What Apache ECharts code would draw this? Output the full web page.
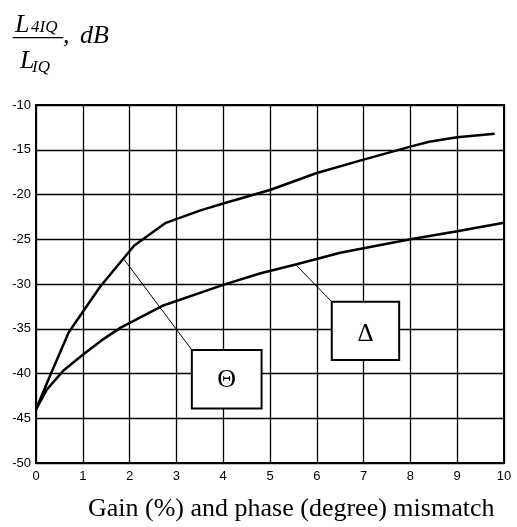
<!DOCTYPE html>
<html>
<head>
<meta charset="utf-8">
<script src="https://cdn.jsdelivr.net/npm/echarts@6/dist/echarts.min.js"></script>
<style>html,body{margin:0;padding:0;background:#fff}#c{width:517px;height:527px}</style>
</head>
<body>
<div id="c"></div>
<script>
// Data
var thetaCurve = [[0,-44],[0.32,-40],[0.7,-35.4],[1.37,-30.3],[2.1,-25.7],[2.76,-23.2],[3.5,-21.8],[4,-21],[5,-19.5],[6,-17.6],[7,-16.1],[8,-14.65],[8.4,-14.1],[9,-13.6],[9.8,-13.2]];
var deltaCurve = [[0,-44],[0.23,-41.8],[0.6,-39.6],[1,-37.9],[1.4,-36.3],[1.8,-34.9],[2.72,-32.4],[4,-30.1],[4.8,-28.8],[5.57,-27.8],[6.5,-26.5],[8,-25.0],[9,-24.1],[10,-23.15]];
var xTicks = [0,1,2,3,4,5,6,7,8,9,10];
var yTicks = [-50,-45,-40,-35,-30,-25,-20,-15,-10];
// Annotation boxes [x0, y0, x1, y1] in data units, and leader lines
var thetaBox = [3.33,-37.37,4.82,-43.9];
var deltaBox = [6.32,-31.98,7.76,-38.5];
var thetaLeader = [[1.88,-27.24],[3.33,-37.37]];
var deltaLeader = [[5.56,-27.9],[6.32,-31.98]];
var xTitle = 'Gain (%) and phase (degree) mismatch';

var chart = echarts.init(document.getElementById('c'), null, {renderer:'canvas'});
var serif = '"Liberation Serif","Times New Roman",serif';
var sans = '"Liberation Sans",Arial,sans-serif';
function boxArea(b, label, off){
  return [{coord:[b[0],b[1]], itemStyle:{color:'#fff',borderColor:'#000',borderWidth:2,opacity:1},
    label:{show:true,position:'inside',formatter:label,fontFamily:serif,fontSize:off.size,color:'#000',offset:off.offset}},
    {coord:[b[2],b[3]]}];
}
var option = {
  animation:false,
  backgroundColor:'#fff',
  grid:{left:36,right:13,top:105,bottom:64,show:true,borderColor:'#000',borderWidth:2,containLabel:false},
  xAxis:{type:'value',min:xTicks[0],max:xTicks[xTicks.length-1],interval:1,
    axisLine:{show:true,lineStyle:{color:'#000',width:2}},axisTick:{show:false},
    axisLabel:{color:'#000',fontFamily:sans,fontSize:13,margin:7},
    splitLine:{show:true,lineStyle:{color:'#000',width:1.3}}},
  yAxis:{type:'value',min:yTicks[0],max:yTicks[yTicks.length-1],interval:5,
    axisLine:{show:true,lineStyle:{color:'#000',width:2}},axisTick:{show:false},
    axisLabel:{color:'#000',fontFamily:sans,fontSize:13,margin:5},
    splitLine:{show:true,lineStyle:{color:'#000',width:1.3}}},
  series:[
    {type:'line',data:thetaCurve,showSymbol:false,symbol:'none',lineStyle:{color:'#000',width:2.5},z:5},
    {type:'line',data:deltaCurve,showSymbol:false,symbol:'none',lineStyle:{color:'#000',width:2.5},z:5,
      markArea:{silent:true,data:[boxArea(thetaBox,'Θ',{size:26,offset:[0,1]}),boxArea(deltaBox,'Δ',{size:25,offset:[0,4]})]},
      markLine:{silent:true,symbol:['none','none'],label:{show:false},lineStyle:{color:'#000',width:1,type:'solid'},
        data:[[{coord:thetaLeader[0]},{coord:thetaLeader[1]}],[{coord:deltaLeader[0]},{coord:deltaLeader[1]}]]}}
  ],
  graphic:[
    {type:'text',left:15,top:12,style:{text:'L',font:'italic 26px '+serif,fill:'#000'}},
    {type:'text',left:31,top:19,style:{text:'4IQ',font:'italic 17px '+serif,fill:'#000'}},
    {type:'line',shape:{x1:12.7,y1:37.7,x2:63.3,y2:37.7},style:{stroke:'#000',lineWidth:1.3}},
    {type:'text',left:20,top:48,style:{text:'L',font:'italic 26px '+serif,fill:'#000'}},
    {type:'text',left:32,top:59,style:{text:'IQ',font:'italic 17px '+serif,fill:'#000'}},
    {type:'text',left:63,top:23,style:{text:',',font:'italic 26px '+serif,fill:'#000'}},
    {type:'text',left:80,top:23,style:{text:'dB',font:'italic 26px '+serif,fill:'#000'}},
    {type:'text',left:88,top:496,style:{text:xTitle,font:'26px '+serif,fill:'#000'}}
  ]
};
chart.setOption(option);
</script>
</body>
</html>
